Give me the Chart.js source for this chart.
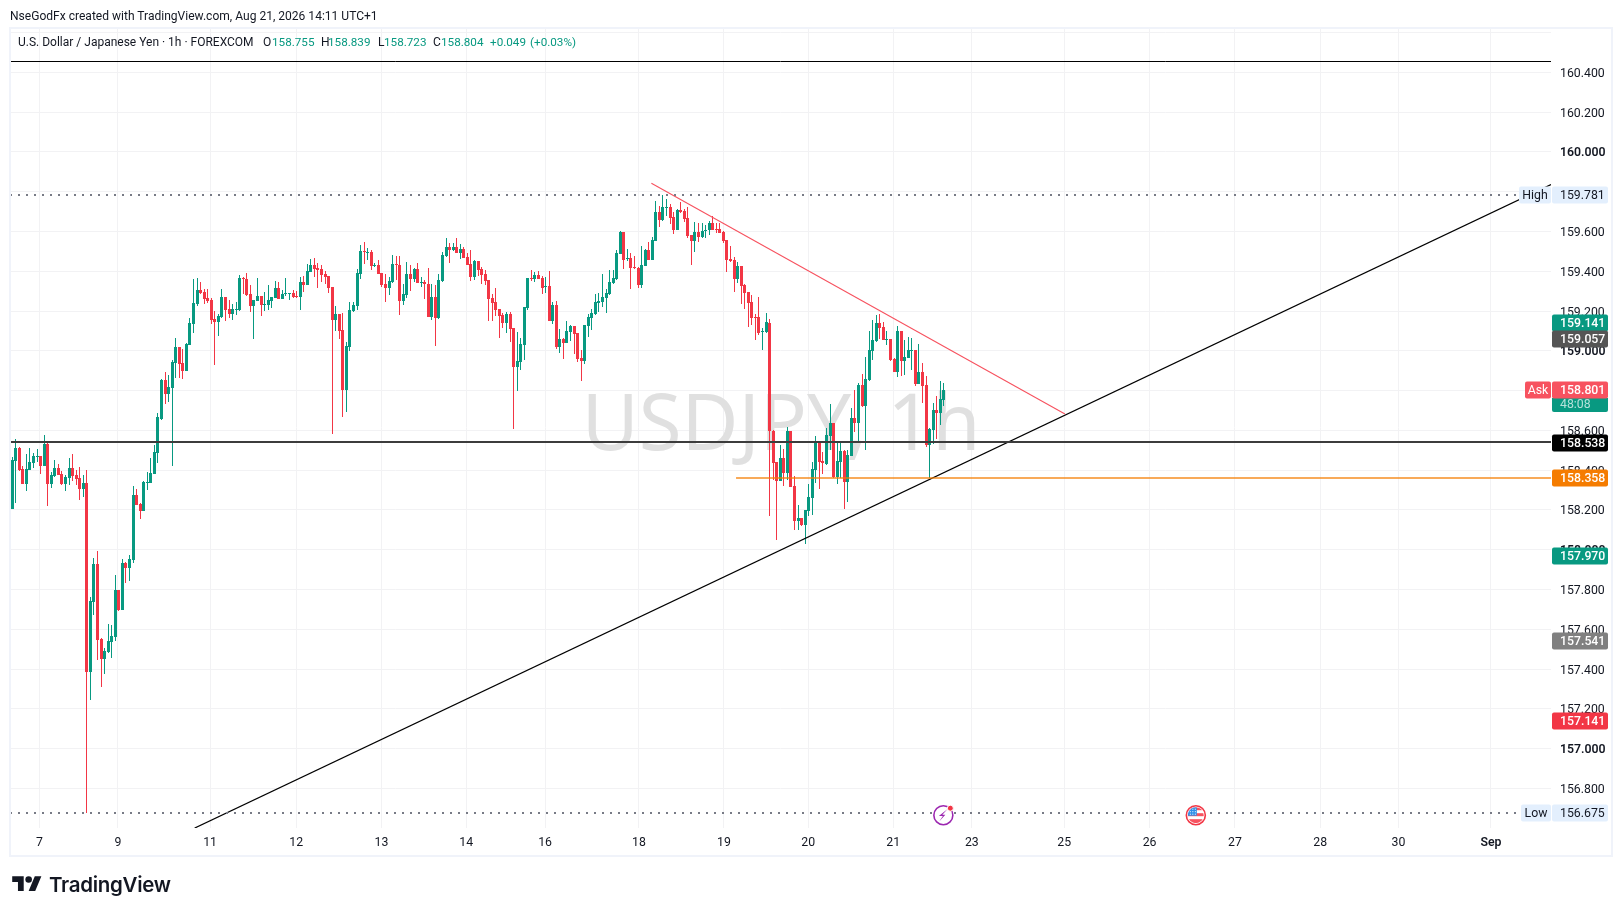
<!DOCTYPE html>
<html>
<head>
<meta charset="utf-8">
<title>USDJPY 1h</title>
<script src="https://cdn.jsdelivr.net/npm/chart.js@4"></script>
<style>
    html, body { margin: 0; padding: 0; background: #fff; }
    body { width: 1623px; height: 916px; position: relative; overflow: hidden; font-family: Roboto, sans-serif; color: #131722; }
    canvas { position: absolute; left: 0; top: 0; }
    .header { position: absolute; left: 10px; top: 7px; font-size: 12.05px; line-height: 18px; white-space: nowrap; }
    .legend span { position: absolute; top: 33px; font-size: 12px; line-height: 18px; white-space: nowrap; }
    .legend .v { color: #089981; font-size: 11.7px; }
    .logo { position: absolute; left: 12px; top: 872px; display: flex; align-items: center; }
    .logo span { font-family: Inter, sans-serif; font-weight: 600; font-size: 20.5px; margin-left: 7px; color: #131722; letter-spacing: -0.3px; }
</style>
</head>
<body>
<canvas id="chart" width="1623" height="916"></canvas>
<div class="header">NseGodFx created with TradingView.com, Aug 21, 2026 14:11 UTC+1</div>
<div class="legend">
    <span style="left:18px">U.S. Dollar / Japanese Yen · 1h · FOREXCOM</span>
    <span style="left:263px">O</span><span class="v" style="left:272px">158.755</span>
    <span style="left:321px">H</span><span class="v" style="left:328px">158.839</span>
    <span style="left:378px">L</span><span class="v" style="left:384px">158.723</span>
    <span style="left:433px">C</span><span class="v" style="left:441px">158.804</span>
    <span class="v" style="left:490px">+0.049</span><span class="v" style="left:530px">(+0.03%)</span>
</div>
<div class="logo">
    <svg width="30" height="23" viewBox="0 0 36 28" fill="#131722"><path d="M14 22H7V11H0V4h14v18zM28 22h-8l7.5-18h8L28 22z"/><circle cx="20" cy="8" r="4"/></svg>
    <span>TradingView</span>
</div>
<script>
// velas de 1h, una por barra
const opens = [
    158.206,158.448,158.511,158.404,158.332,158.401,158.438,158.468,158.471,158.421,
    158.531,158.330,158.371,158.411,158.381,158.330,158.361,158.411,158.376,158.361,
    158.305,158.335,157.386,157.737,157.928,157.552,157.451,157.486,157.536,157.562,
    157.798,157.697,157.933,157.908,157.948,158.275,158.230,158.195,158.337,158.335,
    158.381,158.486,158.657,158.853,158.783,158.813,158.938,159.019,158.938,158.898,
    159.029,159.134,159.235,159.305,159.295,159.265,159.255,159.160,159.145,159.170,
    159.270,159.210,159.185,159.206,159.205,159.366,159.361,159.285,159.225,159.250,
    159.275,159.232,159.230,159.250,159.265,159.315,159.260,159.287,159.285,159.290,
    159.275,159.270,159.345,159.330,159.396,159.431,159.416,159.411,159.386,159.376,
    159.320,159.155,159.185,159.104,158.803,159.019,159.200,159.225,159.386,159.501,
    159.493,159.496,159.428,159.431,159.391,159.335,159.315,159.345,159.436,159.431,
    159.250,159.280,159.386,159.361,159.411,159.342,159.345,159.335,159.170,159.270,
    159.165,159.350,159.476,159.521,159.506,159.521,159.491,159.511,159.471,159.436,
    159.371,159.451,159.411,159.386,159.355,159.265,159.245,159.210,159.180,159.139,
    159.185,159.114,158.918,158.943,159.029,159.215,159.366,159.361,159.381,159.366,
    159.322,159.325,159.150,159.230,159.019,159.059,159.039,159.094,159.124,159.089,
    158.964,158.948,159.124,159.165,159.185,159.240,159.245,159.265,159.285,159.340,
    159.361,159.486,159.597,159.463,159.466,159.421,159.416,159.330,159.426,159.506,
    159.456,159.551,159.697,159.657,159.719,159.722,159.672,159.607,159.707,159.702,
    159.667,159.582,159.551,159.597,159.572,159.603,159.607,159.642,159.612,159.612,
    159.597,159.556,159.461,159.456,159.361,159.426,159.330,159.295,159.245,159.170,
    159.170,159.094,159.094,159.141,158.596,158.440,158.345,158.461,158.385,158.596,
    158.320,158.144,158.159,158.124,158.194,158.260,158.400,158.539,158.446,158.430,
    158.571,158.636,158.365,158.440,158.496,158.340,158.471,158.662,158.637,158.827,
    158.722,158.853,158.998,159.049,159.139,159.119,159.055,159.059,158.958,158.893,
    159.099,158.948,158.963,159.000,159.003,158.833,158.893,158.827,158.526,158.601,
    158.702,158.687,158.755
];
const closes = [
    158.451,158.511,158.401,158.332,158.404,158.441,158.471,158.471,158.421,158.531,
    158.330,158.376,158.411,158.376,158.330,158.366,158.411,158.371,158.356,158.305,
    158.335,157.386,157.743,157.928,157.547,157.451,157.491,157.541,157.567,157.798,
    157.697,157.933,157.908,157.954,158.275,158.225,158.195,158.340,158.340,158.386,
    158.491,158.667,158.853,158.783,158.818,158.943,159.019,158.933,158.898,159.034,
    159.139,159.240,159.305,159.290,159.260,159.250,159.155,159.145,159.175,159.270,
    159.205,159.185,159.210,159.210,159.366,159.361,159.280,159.225,159.255,159.275,
    159.230,159.235,159.255,159.270,159.315,159.260,159.285,159.290,159.288,159.270,
    159.270,159.345,159.330,159.401,159.431,159.411,159.406,159.381,159.371,159.315,
    159.155,159.185,159.099,158.803,159.024,159.205,159.230,159.391,159.501,159.498,
    159.496,159.426,159.431,159.386,159.330,159.315,159.350,159.436,159.433,159.250,
    159.285,159.386,159.361,159.411,159.340,159.345,159.335,159.170,159.270,159.165,
    159.355,159.481,159.521,159.506,159.521,159.491,159.511,159.466,159.431,159.371,
    159.451,159.406,159.381,159.350,159.260,159.240,159.205,159.175,159.139,159.185,
    159.109,158.918,158.949,159.034,159.220,159.366,159.362,159.381,159.361,159.315,
    159.325,159.150,159.230,159.019,159.059,159.039,159.099,159.124,159.084,158.958,
    158.948,159.129,159.170,159.190,159.245,159.250,159.270,159.290,159.345,159.366,
    159.491,159.597,159.456,159.466,159.416,159.416,159.330,159.431,159.506,159.456,
    159.556,159.697,159.657,159.722,159.722,159.667,159.607,159.707,159.697,159.662,
    159.577,159.551,159.597,159.572,159.602,159.607,159.642,159.607,159.608,159.592,
    159.551,159.456,159.451,159.361,159.426,159.325,159.290,159.240,159.165,159.165,
    159.089,159.099,159.144,158.596,158.435,158.345,158.461,158.385,158.596,158.315,
    158.144,158.159,158.124,158.199,158.265,158.405,158.546,158.440,158.436,158.576,
    158.636,158.365,158.446,158.496,158.340,158.476,158.662,158.637,158.827,158.722,
    158.858,159.003,159.054,159.139,159.114,159.054,159.059,158.953,158.893,159.099,
    158.948,158.968,159.003,159.003,158.833,158.893,158.823,158.526,158.607,158.702,
    158.687,158.757,158.804
];
const highs = [
    158.468,158.555,158.515,158.421,158.481,158.511,158.484,158.506,158.471,158.577,
    158.541,158.391,158.451,158.431,158.396,158.376,158.461,158.481,158.401,158.416,
    158.376,158.401,157.763,157.959,157.994,157.557,157.506,157.627,157.622,157.873,
    157.798,157.954,157.938,157.974,158.320,158.305,158.235,158.345,158.391,158.461,
    158.526,158.687,158.858,158.893,158.878,158.953,159.064,159.019,159.009,159.039,
    159.165,159.361,159.366,159.345,159.310,159.310,159.265,159.200,159.185,159.310,
    159.270,159.255,159.235,159.245,159.381,159.371,159.391,159.330,159.255,159.366,
    159.275,159.295,159.330,159.270,159.350,159.345,159.305,159.366,159.288,159.305,
    159.300,159.371,159.376,159.436,159.461,159.466,159.441,159.431,159.401,159.376,
    159.320,159.225,159.185,159.190,159.044,159.245,159.245,159.411,159.531,159.546,
    159.516,159.506,159.441,159.456,159.391,159.386,159.371,159.481,159.476,159.476,
    159.335,159.446,159.431,159.416,159.441,159.371,159.355,159.416,159.335,159.330,
    159.386,159.496,159.567,159.541,159.541,159.567,159.536,159.521,159.491,159.506,
    159.456,159.451,159.421,159.406,159.355,159.285,159.315,159.210,159.190,159.195,
    159.195,159.114,159.094,159.064,159.220,159.366,159.406,159.396,159.401,159.376,
    159.371,159.401,159.245,159.250,159.109,159.064,159.150,159.129,159.124,159.089,
    159.004,159.129,159.185,159.210,159.285,159.290,159.386,159.310,159.406,159.406,
    159.506,159.602,159.597,159.511,159.491,159.476,159.421,159.526,159.511,159.546,
    159.572,159.752,159.727,159.781,159.762,159.737,159.697,159.712,159.747,159.712,
    159.722,159.582,159.647,159.642,159.642,159.632,159.652,159.677,159.642,159.642,
    159.602,159.556,159.526,159.471,159.446,159.426,159.335,159.295,159.280,159.185,
    159.270,159.114,159.190,159.159,158.601,158.440,158.526,158.506,158.616,158.596,
    158.370,158.225,158.159,158.199,158.330,158.440,158.571,158.546,158.491,158.611,
    158.732,158.636,158.534,158.536,158.501,158.501,158.712,158.802,158.837,158.883,
    158.968,159.099,159.154,159.179,159.184,159.144,159.099,159.059,158.963,159.124,
    159.099,159.054,159.069,159.064,159.003,159.034,158.938,158.873,158.612,158.737,
    158.772,158.847,158.839
];
const lows = [
    158.206,158.233,158.396,158.332,158.297,158.401,158.411,158.441,158.381,158.421,
    158.220,158.310,158.366,158.376,158.327,158.295,158.325,158.345,158.325,158.250,
    158.265,156.675,157.245,157.672,157.446,157.310,157.376,157.481,157.456,157.541,
    157.692,157.697,157.833,157.843,157.933,158.225,158.155,158.195,158.300,158.335,
    158.381,158.436,158.652,158.732,158.742,158.421,158.863,158.863,158.858,158.898,
    159.029,159.089,159.225,159.285,159.235,159.240,159.134,158.928,159.074,159.165,
    159.150,159.165,159.155,159.180,159.200,159.285,159.275,159.195,159.059,159.250,
    159.175,159.200,159.205,159.215,159.265,159.260,159.260,159.275,159.255,159.265,
    159.265,159.205,159.295,159.330,159.396,159.371,159.315,159.345,159.335,159.290,
    158.582,159.099,159.059,158.667,158.692,158.999,159.195,159.205,159.361,159.436,
    159.456,159.406,159.421,159.386,159.320,159.245,159.280,159.340,159.355,159.180,
    159.230,159.265,159.300,159.345,159.340,159.320,159.260,159.170,159.155,159.024,
    159.160,159.345,159.471,159.441,159.501,159.491,159.461,159.466,159.431,159.350,
    159.355,159.376,159.335,159.330,159.150,159.150,159.175,159.064,159.114,159.089,
    159.044,158.607,158.798,158.903,158.953,159.205,159.350,159.345,159.361,159.285,
    159.290,159.150,159.134,159.009,158.989,158.958,159.039,159.049,158.984,158.943,
    158.848,158.933,159.069,159.104,159.180,159.195,159.220,159.190,159.280,159.335,
    159.355,159.486,159.411,159.451,159.310,159.411,159.315,159.315,159.426,159.456,
    159.456,159.551,159.622,159.652,159.677,159.637,159.587,159.607,159.692,159.647,
    159.567,159.431,159.496,159.546,159.567,159.567,159.582,159.607,159.592,159.592,
    159.541,159.396,159.446,159.295,159.340,159.235,159.210,159.119,159.129,159.054,
    159.079,159.004,159.089,158.169,158.350,158.049,158.345,158.320,158.350,158.315,
    158.099,158.099,158.119,158.029,158.169,158.175,158.335,158.305,158.380,158.425,
    158.501,158.360,158.330,158.360,158.204,158.240,158.471,158.592,158.546,158.717,
    158.501,158.848,158.953,159.044,159.059,159.054,159.029,158.948,158.893,158.868,
    158.873,158.878,158.963,158.903,158.823,158.833,158.737,158.516,158.358,158.531,
    158.556,158.627,158.723
];

// eje de tiempo: posicion en barras de cada etiqueta
const dayTicks = [7.8, 29.9, 55.8, 80, 104, 127.8, 150, 176.4, 200.3, 224, 247.9, 270, 296, 320, 344, 368, 390, 416];
const dayLabels = ["7", "9", "11", "12", "13", "14", "16", "18", "19", "20", "21", "23", "25", "26", "27", "28", "30", "Sep"];
const priceTicks = [156.8, 157, 157.2, 157.4, 157.6, 157.8, 158, 158.2, 158.4, 158.6, 158.8, 159, 159.2, 159.4, 159.6, 159.8, 160, 160.2, 160.4, 160.6];
const hiddenPriceLabels = [159.8, 160.6]; // solo linea de rejilla, sin texto

// etiquetas de precio a la derecha
const tagPrices = [159.141, 159.057, 158.538, 158.358, 157.970, 157.541, 157.141];
const tagColors = ["#089981", "#555555", "#000000", "#f57c00", "#089981", "#808080", "#f23645"];
const highPrice = 159.781;
const lowPrice = 156.675;
const askPrice = 158.801;
const countdown = "48:08";

// lineas dibujadas sobre el grafico [barra, precio]
const supportLine = [[51.47, 156.600], [432.88, 159.836]];
const resistLine = [[179.9, 159.842], [296.2, 158.682]];
const orangeLine = [[203.7, 158.3604], [432.88, 158.3604]];
const blackLine = [[-0.47, 158.5414], [432.88, 158.5414]];
const topLine = [[-0.47, 160.4545], [432.88, 160.4545]];
const highLine = [[-0.47, 159.783], [423.9, 159.783]];
const lowLine = [[-0.47, 156.676], [424.6, 156.676]];

const GREEN = "#089981";
const RED = "#f23645";
const candleColor = (ctx) => closes[ctx.dataIndex] >= opens[ctx.dataIndex] ? GREEN : RED;

function points(pairs) {
    return pairs.map(p => ({ x: p[0], y: p[1] }));
}

function lineSet(pairs, color, width, dash) {
    return {
        type: "line",
        data: points(pairs),
        borderColor: color,
        borderWidth: width,
        borderDash: dash || [],
        pointRadius: 0,
        tension: 0,
        order: 0
    };
}

function roundRect(ctx, x, y, w, h, r, color) {
    ctx.fillStyle = color;
    ctx.beginPath();
    ctx.roundRect(x, y, w, h, r);
    ctx.fill();
}

// Redondear barras al pixel para que las velas salgan nitidas
const snapBars = {
    id: "snapBars",
    afterDatasetsUpdate(chart) {
        chart.getSortedVisibleDatasetMetas().forEach(meta => {
            if (meta.type !== "bar") return;
            meta.data.forEach(el => {
                el.x = Math.round(el.x) + 0.5;
                el.y = Math.round(el.y);
                el.base = Math.round(el.base);
                if (el.base === el.y) el.base = el.y + 1;
            });
        });
    }
};

// Roboto queda alto con baseline middle, bajar un poco el texto del eje de precios
const nudgeLabels = {
    id: "nudgeLabels",
    beforeDraw(chart) {
        chart.scales.y.getLabelItems().forEach(item => {
            item.options.translation[1] += 1.5;
        });
    }
};

const watermark = {
    id: "watermark",
    beforeDatasetsDraw(chart) {
        const ctx = chart.ctx;
        ctx.save();
        ctx.fillStyle = "#e0e0e0";
        ctx.font = '78px "Noto Sans"';
        ctx.textAlign = "center";
        ctx.textBaseline = "middle";
        ctx.fillText("USDJPY, 1h", 781, 428);
        ctx.restore();
    }
};

function drawTag(ctx, y, color, text, textColor, bold) {
    roundRect(ctx, 1552, Math.round(y) - 8.5, 56, 17, 2, color);
    ctx.fillStyle = textColor;
    ctx.font = (bold ? "500 " : "") + "12.3px Roboto";
    ctx.textAlign = "left";
    ctx.textBaseline = "middle";
    ctx.fillText(text, 1560, Math.round(y) + 1);
}

function drawSideLabel(ctx, y, x, color, text, textColor) {
    roundRect(ctx, x, Math.round(y) - 8.5, 1551 - x, 17, 2, color);
    ctx.fillStyle = textColor;
    ctx.font = "12.3px Roboto";
    ctx.textAlign = "center";
    ctx.textBaseline = "middle";
    ctx.fillText(text, (x + 1551) / 2, Math.round(y) + 1);
}

function drawIcons(chart) {
    const ctx = chart.ctx;
    const xScale = chart.scales.x;
    const y = chart.scales.y.getPixelForValue(lowPrice) + 2;

    // rayo morado
    const xa = xScale.getPixelForValue(262);
    ctx.save();
    ctx.fillStyle = "#fff";
    ctx.strokeStyle = "#9c27b0";
    ctx.lineWidth = 1.6;
    ctx.beginPath();
    ctx.arc(xa, y, 9.5, 0, Math.PI * 2);
    ctx.fill();
    ctx.stroke();
    ctx.fillStyle = "#9c27b0";
    ctx.beginPath();
    ctx.moveTo(xa + 4, y - 6);
    ctx.lineTo(xa - 1, y - 0.5);
    ctx.lineTo(xa + 2, y - 0.5);
    ctx.lineTo(xa - 4, y + 6);
    ctx.lineTo(xa - 0.5, y + 0.8);
    ctx.lineTo(xa - 4.5, y + 0.8);
    ctx.closePath();
    ctx.fill();
    ctx.fillStyle = "#f23645";
    ctx.strokeStyle = "#fff";
    ctx.lineWidth = 1;
    ctx.beginPath();
    ctx.arc(xa + 7, y - 7, 3, 0, Math.PI * 2);
    ctx.fill();
    ctx.stroke();

    // bandera de EE.UU.
    const xb = xScale.getPixelForValue(333);
    ctx.beginPath();
    ctx.arc(xb, y, 10, 0, Math.PI * 2);
    ctx.fillStyle = "#fff";
    ctx.fill();
    ctx.save();
    ctx.beginPath();
    ctx.arc(xb, y, 8, 0, Math.PI * 2);
    ctx.clip();
    ctx.fillStyle = "#f7525f";
    ctx.fillRect(xb - 8, y - 8, 16, 3);
    ctx.fillRect(xb - 8, y - 2, 16, 3);
    ctx.fillRect(xb - 8, y + 4, 16, 4);
    ctx.fillStyle = "#2e8fe8";
    ctx.fillRect(xb - 8, y - 8, 9, 8.5);
    ctx.fillStyle = "#fff";
    for (let a = 0; a < 3; a++) {
        for (let b = 0; b < 3; b++) {
            ctx.fillRect(xb - 6 + a * 2.5, y - 6.5 + b * 2.5, 1, 1);
        }
    }
    ctx.restore();
    ctx.strokeStyle = "#f23645";
    ctx.lineWidth = 1.6;
    ctx.beginPath();
    ctx.arc(xb, y, 9.5, 0, Math.PI * 2);
    ctx.stroke();
    ctx.restore();
}

const overlays = {
    id: "overlays",
    afterDraw(chart) {
        const ctx = chart.ctx;
        const yScale = chart.scales.y;
        ctx.save();

        // marco del panel
        ctx.strokeStyle = "#f0f3fa";
        ctx.lineWidth = 2;
        ctx.strokeRect(10, 28, 1602, 828);

        drawIcons(chart);

        tagPrices.forEach((price, i) => {
            drawTag(ctx, yScale.getPixelForValue(price), tagColors[i], price.toFixed(3), "#fff", true);
        });

        const highY = yScale.getPixelForValue(highPrice);
        drawTag(ctx, highY, "#e3effd", highPrice.toFixed(3), "#131722");
        drawSideLabel(ctx, highY, 1519, "#e3effd", "High", "#131722");

        const lowY = yScale.getPixelForValue(lowPrice);
        drawTag(ctx, lowY, "#e3effd", lowPrice.toFixed(3), "#131722");
        drawSideLabel(ctx, lowY, 1521, "#e3effd", "Low", "#131722");

        const askY = yScale.getPixelForValue(askPrice);
        roundRect(ctx, 1552, Math.round(askY) + 8, 56, 14, [0, 0, 2, 2], GREEN);
        ctx.fillStyle = "rgba(255,255,255,0.7)";
        ctx.font = "12.3px Roboto";
        ctx.textAlign = "left";
        ctx.textBaseline = "middle";
        ctx.fillText(countdown, 1560, Math.round(askY) + 15);
        drawTag(ctx, askY, "#f7525f", askPrice.toFixed(3), "#fff", true);
        drawSideLabel(ctx, askY, 1525, "#f7525f", "Ask", "#fff");

        ctx.restore();
    }
};

document.addEventListener("DOMContentLoaded", () => {
    const wickData = highs.map((h, i) => ({ x: i, y: [lows[i], h] }));
    const bodyData = opens.map((o, i) => ({ x: i, y: [o, closes[i]] }));

    new Chart(document.getElementById("chart").getContext("2d"), {
        type: "bar",
        data: {
            datasets: [
                lineSet(topLine, "#000000", 1),
                lineSet(highLine, "#787b86", 2, [2, 6]),
                lineSet(lowLine, "#787b86", 2, [2, 6]),
                lineSet(blackLine, "#3c3c3c", 2),
                lineSet(orangeLine, "rgba(245,124,0,0.65)", 2),
                lineSet(resistLine, "#f7525f", 1.1),
                lineSet(supportLine, "#000000", 1.1),
                {
                    data: bodyData,
                    backgroundColor: candleColor,
                    barThickness: 3,
                    minBarLength: 1,
                    grouped: false,
                    inflateAmount: 0,
                    order: 1
                },
                {
                    data: wickData,
                    backgroundColor: candleColor,
                    barThickness: 1,
                    minBarLength: 1,
                    grouped: false,
                    inflateAmount: 0,
                    order: 2
                }
            ]
        },
        options: {
            responsive: false,
            animation: false,
            devicePixelRatio: 1,
            events: [],
            layout: { padding: { left: 10, top: 27, right: 11, bottom: 60 } },
            plugins: { legend: { display: false }, tooltip: { enabled: false } },
            scales: {
                x: {
                    type: "linear",
                    min: -0.47,
                    max: 432.88,
                    offset: false,
                    grid: { color: "#f2f2f4", offset: false, drawTicks: false },
                    border: { display: false },
                    afterBuildTicks: scale => { scale.ticks = dayTicks.map(v => ({ value: v })); },
                    afterFit: scale => { scale.height = 28; },
                    ticks: {
                        autoSkip: false,
                        maxRotation: 0,
                        padding: 8,
                        color: "#131722",
                        font: ctx => ({ family: "Roboto", size: 12.3, weight: ctx.index === dayLabels.length - 1 ? "600" : "400" }),
                        callback: (value, index) => dayLabels[index]
                    }
                },
                y: {
                    position: "right",
                    min: 156.6006,
                    max: 160.628,
                    grid: { color: "#f2f2f4", drawTicks: false },
                    border: { display: false },
                    afterBuildTicks: scale => { scale.ticks = priceTicks.map(v => ({ value: v })); },
                    afterFit: scale => { scale.width = 61; },
                    ticks: {
                        autoSkip: false,
                        align: "center",
                        crossAlign: "near",
                        padding: 9,
                        color: "#131722",
                        font: ctx => ({ family: "Roboto", size: 12.3, weight: ctx.tick && Number.isInteger(ctx.tick.value) ? "600" : "400" }),
                        callback: value => hiddenPriceLabels.includes(value) ? "" : value.toFixed(3)
                    }
                }
            }
        },
        plugins: [snapBars, nudgeLabels, watermark, overlays]
    });
});
</script>
</body>
</html>
